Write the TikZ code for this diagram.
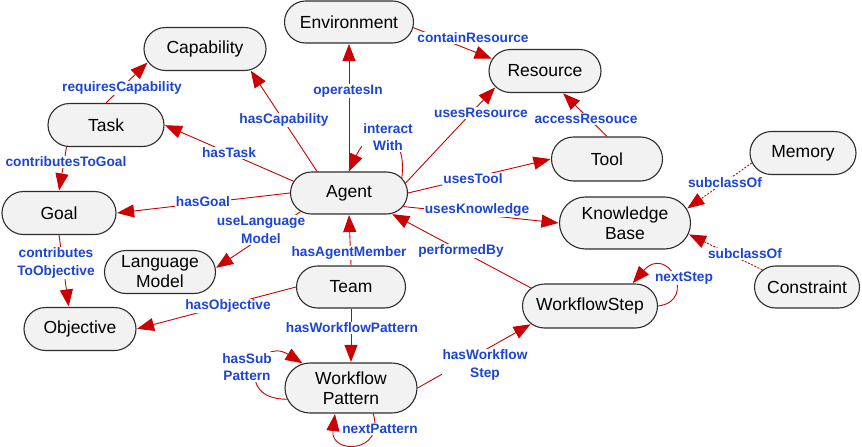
\documentclass[tikz,border=0pt]{standalone}
\definecolor{edgeRed}{RGB}{204, 0, 0}
\definecolor{labelBlue}{RGB}{28, 68, 214}
\definecolor{conceptGray}{RGB}{242, 242, 242}
\definecolor{borderGray}{RGB}{45, 45, 45}
\usepackage{fontspec}
\setmainfont{Liberation Sans}
\usepackage{tikz}
\usetikzlibrary{shapes,shapes.misc,arrows,positioning,calc,arrows.meta}

\begin{document}
\begin{tikzpicture}[x=1pt,y=-1pt,
    concept/.style={rounded rectangle,fill=conceptGray,draw=borderGray,line width=1.1pt,
        minimum height=43pt,inner sep=1pt,align=center,
        font=\fontsize{17.5}{20}\selectfont},
    rel/.style={draw=edgeRed,line width=0.9pt,-{Triangle[length=17pt,width=13pt]},
        shorten >=0.5pt},
    sub/.style={rel,dash pattern=on 2pt off 1.5pt},
    lbl/.style={fill=white,inner sep=1pt,text=labelBlue,align=center,
        font=\fontsize{13.7}{17.5}\selectfont\bfseries}]
    \useasboundingbox (0,0) rectangle (862,447);

    % concepts
    \node[concept,minimum width=131pt,minimum height=42pt] (env) at (349,22) {Environment};
    \node[concept,minimum width=124pt] (cap) at (205,49) {Capability};
    \node[concept,minimum width=118pt] (task) at (106,125) {Task};
    \node[concept,minimum width=119pt,minimum height=42pt] (agent) at (349,193) {Agent};
    \node[concept,minimum width=116pt] (goal) at (59,213) {Goal};
    \node[concept,minimum width=114pt] (res) at (545,71) {Resource};
    \node[concept,minimum width=113pt,minimum height=44pt] (tool) at (607,159) {Tool};
    \node[concept,minimum width=108pt] (mem) at (803,153) {Memory};
    \node[concept,minimum width=133pt,minimum height=52pt] (kb) at (625,223) {Knowledge\\Base};
    \node[concept,minimum width=107pt,minimum height=42pt] (cons) at (807,287) {Constraint};
    \node[concept,minimum width=137pt,minimum height=44pt] (wstep) at (590,306) {WorkflowStep};
    \node[concept,minimum width=113pt] (lm) at (160,272) {Language\\Model};
    \node[concept,minimum width=111pt,minimum height=42pt] (team) at (351,287) {Team};
    \node[concept,minimum width=114pt] (obj) at (80,329) {Objective};
    \node[concept,minimum width=134pt,minimum height=50pt] (wpat) at (351,388) {Workflow\\Pattern};

    % relations
    \draw[rel] (agent.north) -- (env.south);
    \draw[rel] (env.-5) -- (res.167);
    \draw[rel] (agent.146) -- (cap.-25);
    \draw[rel] (task.north) -- (cap.193);
    \draw[rel] (agent.168) -- (task.east);
    \draw[rel] (task.209) -- (goal.north);
    \draw[rel] (agent.west) -- (goal.east);
    \draw[rel] (agent.16) .. controls +(6,-50) and +(22,-48) .. (agent.north);
    \draw[rel] (agent.10) -- (res.198);
    \draw[rel] (tool.north) -- (res.-51);
    \draw[rel] (agent.east) -- (tool.west);
    \draw[rel] (agent.-14) -- (kb.west);
    \draw[sub] (mem.191) -- (kb.13);
    \draw[sub] (cons.159) -- (kb.-10);
    \draw[rel] (agent.201) -- (lm.4);
    \draw[rel] (goal.south) -- (obj.117);
    \draw[rel] (team.north) -- (agent.south);
    \draw[rel] (wstep.163) -- (agent.-26);
    \draw[rel] (team.west) -- (obj.east);
    \draw[rel] (team.south) -- (wpat.north);
    \draw[rel] (wpat.190) .. controls +(-55,0) and +(-45,-28) .. (wpat.153);
    \draw[rel] (wpat.-49) .. controls +(12,40) and +(-5,41) .. (wpat.-122);
    \draw[rel] (wpat.east) -- (wstep.197);
    \draw[rel] (wstep.east) .. controls +(40,-5) and +(35,-40) .. (wstep.28);

    % relation labels
    \node[lbl] (lOperates) at (348,91) {operatesIn};
    \node[lbl] (lContain) at (473,38) {containResource};
    \node[lbl] (lHasCap) at (284,120) {hasCapability};
    \node[lbl] (lReqCap) at (122,88) {requiresCapability};
    \node[lbl] (lHasTask) at (229,153) {hasTask};
    \node[lbl] (lToGoal) at (66,162) {contributesToGoal};
    \node[lbl] (lHasGoal) at (203,202) {hasGoal};
    \node[lbl] (lInteract) at (388,137) {interact\\With};
    \node[lbl] (lUsesRes) at (481,113) {usesResource};
    \node[lbl] (lAccess) at (586,119) {accessResouce};
    \node[lbl] (lUsesTool) at (473,179) {usesTool};
    \node[lbl] (lUsesKnow) at (477,210) {usesKnowledge};
    \node[lbl] (lSubMem) at (725,183) {subclassOf};
    \node[lbl] (lSubCons) at (745,254) {subclassOf};
    \node[lbl] (lUseLM) at (261,230) {useLanguage\\Model};
    \node[lbl] (lToObj) at (56,263) {contributes\\ToObjective};
    \node[lbl] (lMember) at (349,253) {hasAgentMember};
    \node[lbl] (lPerformed) at (461,251) {performedBy};
    \node[lbl] (lHasObj) at (228,306) {hasObjective};
    \node[lbl] (lHasWP) at (352,328) {hasWorkflowPattern};
    \node[lbl] (lSubPat) at (247,367) {hasSub\\Pattern};
    \node[lbl] (lNextPat) at (380,429) {nextPattern};
    \node[lbl] (lHasStep) at (485,365) {hasWorkflow\\Step};
    \node[lbl] (lNextStep) at (684,278) {nextStep};
\end{tikzpicture}
\end{document}
